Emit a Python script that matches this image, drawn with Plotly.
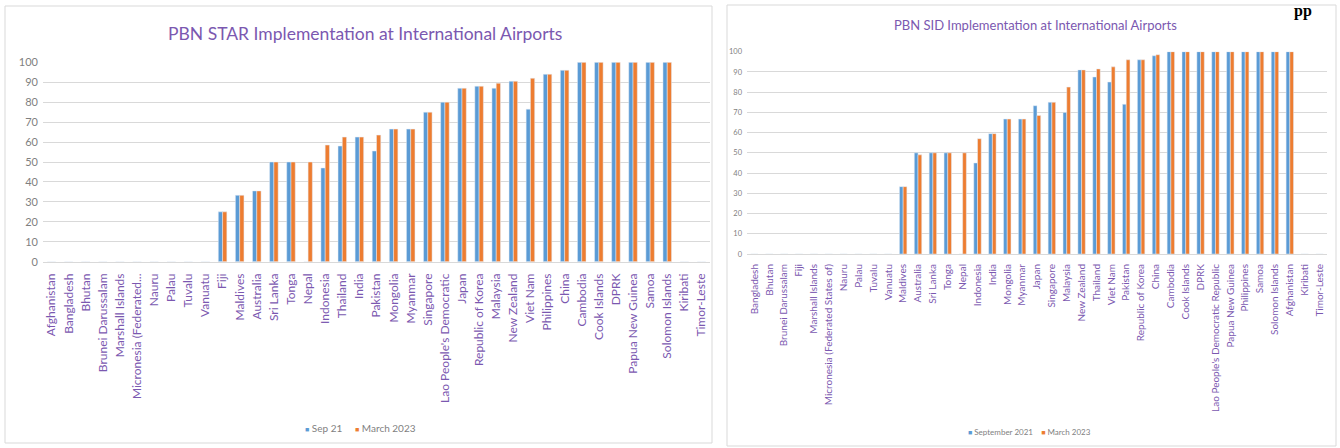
import plotly.graph_objects as go

# ---- PBN STAR data (percent of international airports) ----
star_countries = [
    "Afghanistan", "Bangladesh", "Bhutan", "Brunei Darussalam", "Marshall Islands",
    "Micronesia (Federated...", "Nauru", "Palau", "Tuvalu", "Vanuatu", "Fiji",
    "Maldives", "Australia", "Sri Lanka", "Tonga", "Nepal", "Indonesia", "Thailand",
    "India", "Pakistan", "Mongolia", "Myanmar", "Singapore", "Lao People's Democratic",
    "Japan", "Republic of Korea", "Malaysia", "New Zealand", "Viet Nam", "Philippines",
    "China", "Cambodia", "Cook Islands", "DPRK", "Papua New Guinea", "Samoa",
    "Solomon Islands", "Kiribati", "Timor-Leste",
]
star_sep21 = [0, 0, 0, 0, 0, 0, 0, 0, 0, 0, 25, 33.3, 35.5, 50, 50, 0, 47, 58, 62.5,
              55.5, 66.5, 66.5, 75, 80, 87, 88, 87, 90.5, 76.5, 94, 96, 100, 100, 100,
              100, 100, 100, 0, 0]
star_mar23 = [0, 0, 0, 0, 0, 0, 0, 0, 0, 0, 25, 33.3, 35.5, 50, 50, 50, 58.5, 62.5, 62.5,
              63.5, 66.5, 66.5, 75, 80, 87, 88, 89.5, 90.5, 92, 94, 96, 100, 100, 100,
              100, 100, 100, 0, 0]

# ---- PBN SID data ----
sid_countries = [
    "Bangladesh", "Bhutan", "Brunei Darussalam", "Fiji", "Marshall Islands",
    "Micronesia (Federated States of)", "Nauru", "Palau", "Tuvalu", "Vanuatu",
    "Maldives", "Australia", "Sri Lanka", "Tonga", "Nepal", "Indonesia", "India",
    "Mongolia", "Myanmar", "Japan", "Singapore", "Malaysia", "New Zealand", "Thailand",
    "Viet Nam", "Pakistan", "Republic of Korea", "China", "Cambodia", "Cook Islands",
    "DPRK", "Lao People's Democratic Republic", "Papua New Guinea", "Philippines",
    "Samoa", "Solomon Islands", "Afghanistan", "Kiribati", "Timor-Leste",
]
sid_sep21 = [0, 0, 0, 0, 0, 0, 0, 0, 0, 0, 33.3, 50, 50, 50, 0, 45, 59.5, 66.7, 66.7,
             73.3, 75, 70, 91, 87.5, 85, 74, 96, 98, 100, 100, 100, 100, 100, 100,
             100, 100, 100, 0, 0]
sid_mar23 = [0, 0, 0, 0, 0, 0, 0, 0, 0, 0, 33.3, 49, 50, 50, 50, 57, 59.5, 66.7, 66.7,
             68.5, 75, 82.5, 91, 91.5, 92.5, 96, 96, 98.5, 100, 100, 100, 100, 100, 100,
             100, 100, 100, 0, 0]

y_ticks = [0, 10, 20, 30, 40, 50, 60, 70, 80, 90, 100]

star_series = ["Sep 21", "March 2023"]
sid_series = ["September 2021", "March 2023"]

BLUE = "#5B9BD5"
ORANGE = "#ED7D31"
PURPLE = "#7B58B0"
GREY_TXT = "#7F7F7F"
GRID = "#D9D9D9"
FONT = "Lato"

W, H = 1340, 448


def px(x):
    return x / W


def py(y):
    return 1 - y / H


fig = go.Figure()

fig.add_trace(go.Bar(x=star_countries, y=star_sep21, name=star_series[0],
                     marker_color=BLUE, xaxis="x", yaxis="y", showlegend=False))
fig.add_trace(go.Bar(x=star_countries, y=star_mar23, name=star_series[1],
                     marker_color=ORANGE, xaxis="x", yaxis="y", showlegend=False))
fig.add_trace(go.Bar(x=sid_countries, y=sid_sep21, name=sid_series[0],
                     marker_color=BLUE, xaxis="x2", yaxis="y2", showlegend=False))
fig.add_trace(go.Bar(x=sid_countries, y=sid_mar23, name=sid_series[1],
                     marker_color=ORANGE, xaxis="x2", yaxis="y2", showlegend=False))

common_y = dict(range=[0, 100], tickvals=y_ticks, showgrid=True, gridcolor=GRID,
                gridwidth=1, zeroline=False, showline=False, ticks="",
                automargin=False, fixedrange=True)
common_x = dict(type="category", tickangle=-90, showgrid=False, zeroline=False,
                showline=True, linecolor=GRID, linewidth=1, ticks="",
                automargin=False, fixedrange=True)

fig.update_layout(
    width=W, height=H,
    margin=dict(l=0, r=0, t=0, b=0, autoexpand=False),
    paper_bgcolor="white", plot_bgcolor="white",
    barmode="group", bargap=0.5, bargroupgap=0,
    font=dict(family=FONT),
    showlegend=False,
    xaxis=dict(common_x, domain=[px(43), px(710)], anchor="y", ticklabelstandoff=6,
               tickfont=dict(family=FONT, size=12, color=PURPLE)),
    yaxis=dict(common_y, domain=[py(261.7), py(62.3)], anchor="x", ticklabelstandoff=4,
               tickfont=dict(family=FONT, size=11, color=GREY_TXT)),
    xaxis2=dict(common_x, domain=[px(747), px(1327)], anchor="y2", ticklabelstandoff=5,
                tickfont=dict(family=FONT, size=10, color=PURPLE)),
    yaxis2=dict(common_y, domain=[py(254), py(51.7)], anchor="x2", ticklabelstandoff=4,
                tickfont=dict(family=FONT, size=7.5, color=GREY_TXT)),
)

# chart frames
fig.add_shape(type="rect", xref="paper", yref="paper", x0=px(5), x1=px(712),
              y0=py(443), y1=py(6), line=dict(color=GRID, width=1), layer="below")
fig.add_shape(type="rect", xref="paper", yref="paper", x0=px(727), x1=px(1336),
              y0=py(446), y1=py(5), line=dict(color=GRID, width=1), layer="below")

# chart titles
fig.add_annotation(text="PBN STAR Implementation at International Airports",
                   xref="paper", yref="paper", x=px(365), y=py(33), showarrow=False,
                   xanchor="center", yanchor="middle",
                   font=dict(family=FONT, size=17.5, color=PURPLE))
fig.add_annotation(text="PBN SID Implementation at International Airports",
                   xref="paper", yref="paper", x=px(1035), y=py(25), showarrow=False,
                   xanchor="center", yanchor="middle",
                   font=dict(family=FONT, size=13, color=PURPLE))


def legend_text(names, gap):
    sq = "<span style='font-size:{}px;color:{}'>■</span>"
    parts = []
    for name, col in zip(names, (BLUE, ORANGE)):
        parts.append(sq.format(7, col) + "&nbsp;" + name)
    return ("&nbsp;" * gap).join(parts)


# series keys under each chart
fig.add_annotation(text=legend_text(star_series, 5), xref="paper", yref="paper",
                   x=px(361), y=py(428), showarrow=False, xanchor="center",
                   yanchor="middle", font=dict(family=FONT, size=10, color=GREY_TXT))
fig.add_annotation(text=legend_text(sid_series, 4), xref="paper", yref="paper",
                   x=px(1029), y=py(432), showarrow=False, xanchor="center",
                   yanchor="middle", font=dict(family=FONT, size=8, color=GREY_TXT))

# page heading fragment above the right chart
fig.add_annotation(text="<b>pp</b>", xref="paper", yref="paper", x=px(1292), y=py(0),
                   showarrow=False, xanchor="left", yanchor="top",
                   font=dict(family="Liberation Serif", size=16, color="black"))

fig.write_html("out.html")
